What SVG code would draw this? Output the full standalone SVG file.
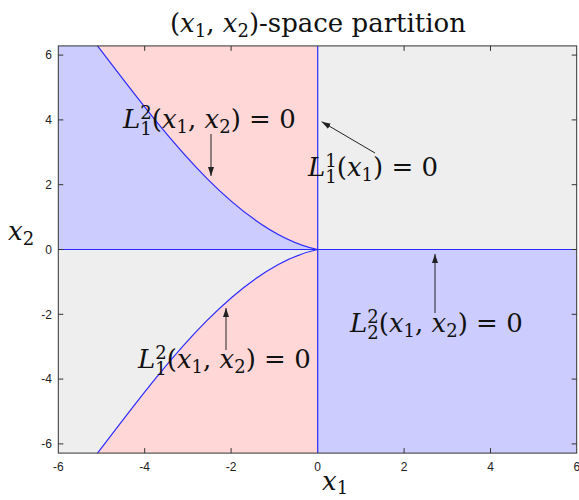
<svg xmlns="http://www.w3.org/2000/svg" width="579" height="500" viewBox="0 0 579 500">
<style>
.tk{font-family:"Liberation Sans",Arial,sans-serif;font-size:12px;fill:#222}
.tx{text-anchor:middle}
.ty{text-anchor:end}
.m{font-family:"DejaVu Serif","Liberation Serif",serif;font-size:26px;fill:#111}
.it{font-style:italic}
.s{font-size:18px}
.bd{fill:none;stroke:#2a2aff;stroke-width:1.2}
.ar{stroke:#222;stroke-width:1;fill:none}
.tick{stroke:#333;stroke-width:1}
</style>
<defs>
<marker id="ah" markerWidth="10" markerHeight="8" refX="9" refY="4" orient="auto" markerUnits="userSpaceOnUse">
<path d="M0,1 L9,4 L0,7 Z" fill="#222"/>
</marker>
</defs>
<rect width="579" height="500" fill="#fff"/>
<g id="regions">
<path fill="#ccccff" d="M58.3,45.9 L97.5,45.9 C157.5,123.9 235,232 317.7,249.5 L58.3,249.5 Z"/>
<path fill="#ffd7d7" d="M97.5,45.9 C157.5,123.9 235,232 317.7,249.5 L317.7,45.9 Z"/>
<rect x="317.7" y="45.9" width="259" height="203.6" fill="#eeeeee"/>
<path fill="#eeeeee" d="M58.3,249.5 L317.7,249.5 C235,267 157.5,375.1 97.5,453.1 L58.3,453.1 Z"/>
<path fill="#ffd7d7" d="M317.7,249.5 C235,267 157.5,375.1 97.5,453.1 L317.7,453.1 Z"/>
<rect x="317.7" y="249.5" width="259" height="203.6" fill="#ccccff"/>
</g>
<g id="connectors">
<path class="bd" d="M97.5,45.9 C157.5,123.9 235,232 317.7,249.5"/>
<path class="bd" d="M97.5,453.1 C157.5,375.1 235,267 317.7,249.5"/>
<line class="bd" x1="317.7" y1="45.9" x2="317.7" y2="453.1"/>
<line class="bd" x1="58.3" y1="249.5" x2="576.7" y2="249.5"/>
<line class="ar" x1="211" y1="134" x2="211" y2="176" marker-end="url(#ah)"/>
<line class="ar" x1="375" y1="153" x2="321.7" y2="121.7" marker-end="url(#ah)"/>
<line class="ar" x1="226" y1="350" x2="226" y2="308" marker-end="url(#ah)"/>
<line class="ar" x1="435" y1="313" x2="435" y2="254" marker-end="url(#ah)"/>
</g>
<g id="axes">
<rect x="58.3" y="45.9" width="518.4" height="407.2" fill="none" stroke="#333" stroke-width="1"/>
<path class="tick" d="M144.7,453.1v-5M231.1,453.1v-5M404.1,453.1v-5M490.5,453.1v-5M144.7,45.9v5M231.1,45.9v5M404.1,45.9v5M490.5,45.9v5M58.3,55.1h5M58.3,119.9h5M58.3,184.7h5M58.3,249.5h5M58.3,314.3h5M58.3,379.1h5M58.3,443.9h5M576.7,55.1h-5M576.7,119.9h-5M576.7,184.7h-5M576.7,249.5h-5M576.7,314.3h-5M576.7,379.1h-5M576.7,443.9h-5"/>
<text class="tk tx" x="58.3" y="471">-6</text>
<text class="tk tx" x="144.7" y="471">-4</text>
<text class="tk tx" x="231.1" y="471">-2</text>
<text class="tk tx" x="317.7" y="471">0</text>
<text class="tk tx" x="404.1" y="471">2</text>
<text class="tk tx" x="490.5" y="471">4</text>
<text class="tk tx" x="576.9" y="471">6</text>
<text class="tk ty" x="52" y="59.3">6</text>
<text class="tk ty" x="52" y="124.1">4</text>
<text class="tk ty" x="52" y="188.9">2</text>
<text class="tk ty" x="52" y="253.7">0</text>
<text class="tk ty" x="52" y="318.5">-2</text>
<text class="tk ty" x="52" y="383.3">-4</text>
<text class="tk ty" x="52" y="448.1">-6</text>
</g>
<g id="title">
<text class="m" x="318" y="32" text-anchor="middle" font-size="25">(<tspan class="it">x</tspan><tspan class="s" dy="5">1</tspan><tspan dy="-5">, </tspan><tspan class="it">x</tspan><tspan class="s" dy="5">2</tspan><tspan dy="-5">)-space partition</tspan></text>
</g>
<g id="xlabel">
<text class="m" x="322" y="490"><tspan class="it">x</tspan><tspan class="s" dy="4">1</tspan></text>
</g>
<g id="ylabel">
<text class="m" x="8" y="240"><tspan class="it">x</tspan><tspan class="s" dy="5">2</tspan></text>
</g>
<g id="label-L12-upper">
<text class="m" x="123" y="128"><tspan class="it">L</tspan><tspan class="s" dy="-9">2</tspan><tspan class="s" dx="-11.4" dy="16">1</tspan><tspan dy="-7">(</tspan><tspan class="it">x</tspan><tspan class="s" dy="5">1</tspan><tspan dy="-5">, </tspan><tspan class="it">x</tspan><tspan class="s" dy="5">2</tspan><tspan dy="-5">) = 0</tspan></text>
</g>
<g id="label-L11">
<text class="m" x="308" y="176"><tspan class="it">L</tspan><tspan class="s" dy="-9">1</tspan><tspan class="s" dx="-11.4" dy="16">1</tspan><tspan dy="-7">(</tspan><tspan class="it">x</tspan><tspan class="s" dy="5">1</tspan><tspan dy="-5">) = 0</tspan></text>
</g>
<g id="label-L12-lower">
<text class="m" x="138" y="368"><tspan class="it">L</tspan><tspan class="s" dy="-9">2</tspan><tspan class="s" dx="-11.4" dy="16">1</tspan><tspan dy="-7">(</tspan><tspan class="it">x</tspan><tspan class="s" dy="5">1</tspan><tspan dy="-5">, </tspan><tspan class="it">x</tspan><tspan class="s" dy="5">2</tspan><tspan dy="-5">) = 0</tspan></text>
</g>
<g id="label-L22">
<text class="m" x="350" y="332"><tspan class="it">L</tspan><tspan class="s" dy="-9">2</tspan><tspan class="s" dx="-11.4" dy="16">2</tspan><tspan dy="-7">(</tspan><tspan class="it">x</tspan><tspan class="s" dy="5">1</tspan><tspan dy="-5">, </tspan><tspan class="it">x</tspan><tspan class="s" dy="5">2</tspan><tspan dy="-5">) = 0</tspan></text>
</g>
</svg>
